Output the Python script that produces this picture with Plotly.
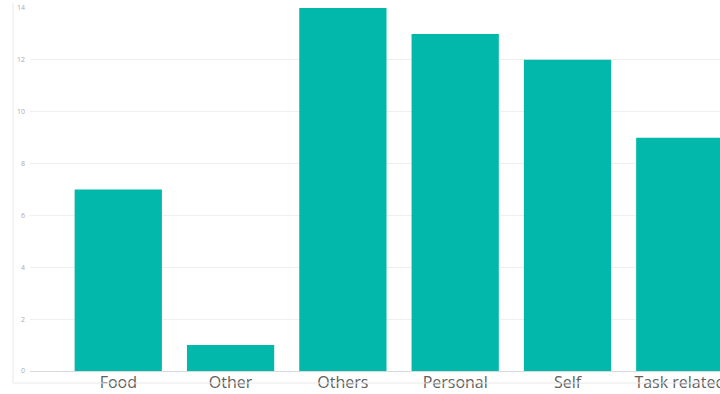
import plotly.graph_objects as go

categories = ["Food", "Other", "Others", "Personal", "Self", "Task related"]
counts = [7, 1, 14, 13, 12, 9]
y_ticks = [0, 2, 4, 6, 8, 10, 12, 14]

W, H = 720, 394
ML, MR, MT, MB = 30, 0, 8, 23
pw, ph = W - ML - MR, H - MT - MB

fig = go.Figure(
    go.Bar(
        x=categories,
        y=counts,
        marker=dict(color="#01B8AA", line=dict(width=0)),
        width=0.777,
        hoverinfo="x+y",
    )
)

# outer frame lines to the left and below the plot area
fx = (13 - ML) / pw
fy_bot = -(383 - (H - MB)) / ph
fy_top = 1 + (MT - 3) / ph
fig.add_shape(type="line", xref="paper", yref="paper", x0=fx, x1=fx, y0=fy_bot, y1=fy_top,
              line=dict(color="#e8e8e8", width=1))
fig.add_shape(type="line", xref="paper", yref="paper", x0=fx, x1=1.0, y0=fy_bot, y1=fy_bot,
              line=dict(color="#e8e8e8", width=1))

fig.update_layout(
    width=W,
    height=H,
    margin=dict(l=ML, r=MR, t=MT, b=MB, autoexpand=False),
    paper_bgcolor="white",
    plot_bgcolor="white",
    showlegend=False,
    font=dict(family="Open Sans, Segoe UI, sans-serif", color="#666666"),
    xaxis=dict(
        range=[-0.786, 5.358],
        automargin=False,
        showgrid=False,
        showline=False,
        zeroline=False,
        ticks="",
        tickfont=dict(size=16, color="#606060"),
    ),
    yaxis=dict(
        range=[0, 14],
        automargin=False,
        tickvals=y_ticks,
        ticktext=[str(v) for v in y_ticks],
        showgrid=True,
        gridcolor="#efefef",
        gridwidth=1,
        zeroline=True,
        zerolinecolor="#d9d9d9",
        zerolinewidth=1,
        showline=False,
        ticks="",
        ticklabelstandoff=4,
        tickfont=dict(size=7, color="#aaaaaa"),
    ),
)

fig.write_html("out.html")
